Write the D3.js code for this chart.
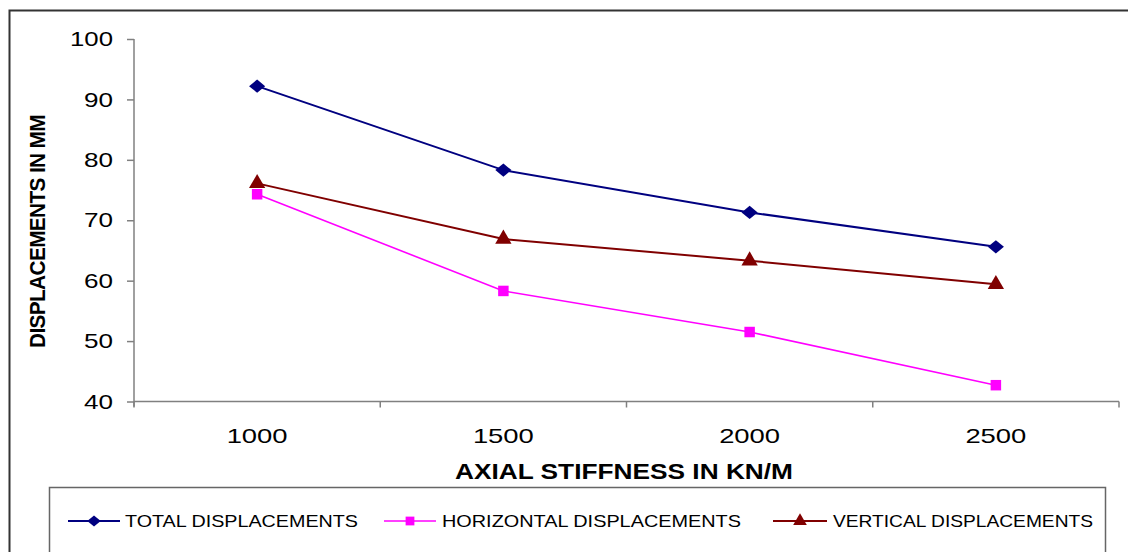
<!DOCTYPE html>
<html>
<head>
<meta charset="utf-8">
<script src="https://cdn.jsdelivr.net/npm/d3@7"></script>
<style>
  html, body { margin: 0; padding: 0; background: #fff; }
  svg { display: block; font-family: Arial, "Liberation Sans", sans-serif; }
</style>
</head>
<body>
<svg id="chart" width="1128" height="552"></svg>
<script>
// Axial stiffness categories (kN/m)
const categories = ["1000", "1500", "2000", "2500"];

// Displacements in mm for each stiffness value
const totalDisp = [92.2, 78.3, 71.3, 65.6];
const horizontalDisp = [74.3, 58.3, 51.5, 42.7];
const verticalDisp = [76.1, 66.9, 63.3, 59.4];

const seriesNames = ["TOTAL DISPLACEMENTS", "HORIZONTAL DISPLACEMENTS", "VERTICAL DISPLACEMENTS"];
const yTicks = [40, 50, 60, 70, 80, 90, 100];

const series = [
  { name: seriesNames[0], values: totalDisp, color: "#000080", width: 2, shape: "diamond" },
  { name: seriesNames[1], values: horizontalDisp, color: "#FF00FF", width: 1.6, shape: "square" },
  { name: seriesNames[2], values: verticalDisp, color: "#800000", width: 2, shape: "triangle" }
];

const svg = d3.select("#chart");

// outer chart frame
svg.append("rect")
  .attr("x", 9.5).attr("y", 10.5)
  .attr("width", 1130).attr("height", 560)
  .attr("fill", "none").attr("stroke", "#333").attr("stroke-width", 2);

const plot = { left: 134, right: 1119, top: 39, bottom: 401.5 };

const x = d3.scaleBand().domain(categories).range([plot.left, plot.right]).padding(0);
const y = d3.scaleLinear().domain([40, 100]).range([plot.bottom, plot.top]);

// stretch a text node horizontally to a target width
function fitWidth(sel, w) {
  sel.attr("textLength", w).attr("lengthAdjust", "spacingAndGlyphs");
}

// Y axis
const yAxis = svg.append("g")
  .attr("transform", `translate(${plot.left},0)`)
  .call(d3.axisLeft(y).tickValues(yTicks).tickSize(7).tickPadding(14).tickFormat(d3.format("d")));
yAxis.select(".domain").attr("stroke", "#808080").attr("stroke-width", 1.5)
  .attr("d", `M0,${plot.top}V${plot.bottom + 5}`);
yAxis.selectAll(".tick line").attr("stroke", "#808080").attr("stroke-width", 1.5);
yAxis.selectAll(".tick text")
  .attr("font-size", 21).attr("fill", "#000")
  .attr("font-family", "Arial, 'Liberation Sans', sans-serif")
  .each(function(d) { fitWidth(d3.select(this), String(d).length === 3 ? 43 : 29); });

// X axis with ticks on category boundaries
const xAxis = svg.append("g")
  .attr("transform", `translate(0,${plot.bottom})`);
xAxis.append("line")
  .attr("x1", plot.left).attr("x2", plot.right)
  .attr("stroke", "#808080").attr("stroke-width", 1.5);
const bounds = categories.map(c => x(c)).concat([plot.right]);
xAxis.selectAll(".bt").data(bounds).join("line")
  .attr("class", "bt")
  .attr("x1", d => d).attr("x2", d => d)
  .attr("y1", 0).attr("y2", 6)
  .attr("stroke", "#808080").attr("stroke-width", 1.5);
xAxis.selectAll(".lbl").data(categories).join("text")
  .attr("class", "lbl")
  .attr("x", d => x(d) + x.bandwidth() / 2)
  .attr("y", 41)
  .attr("text-anchor", "middle")
  .attr("font-size", 21)
  .text(d => d)
  .call(fitWidth, 61);

// axis titles
svg.append("text")
  .attr("x", 624).attr("y", 479)
  .attr("text-anchor", "middle")
  .attr("font-size", 22).attr("font-weight", "bold")
  .text("AXIAL STIFFNESS IN KN/M")
  .call(fitWidth, 338);

svg.append("text")
  .attr("transform", "translate(45,231.5) scale(1.35,1) rotate(-90)")
  .attr("text-anchor", "middle")
  .attr("font-size", 17).attr("font-weight", "bold")
  .attr("letter-spacing", -0.5)
  .text("DISPLACEMENTS IN MM")
  .call(fitWidth, 233);

// marker symbols
const shapes = {
  diamond: s => d3.symbol().type(d3.symbolDiamond2 || d3.symbolDiamond).size(s)(),
  square: s => d3.symbol().type(d3.symbolSquare).size(s)(),
  triangle: s => d3.symbol().type(d3.symbolTriangle).size(s)()
};
const markerSize = { diamond: 125, square: 110, triangle: 115 };

const line = d3.line()
  .x((d, i) => x(categories[i]) + x.bandwidth() / 2)
  .y(d => y(d));

const gSeries = svg.append("g");
series.forEach(s => {
  gSeries.append("path")
    .datum(s.values)
    .attr("d", line)
    .attr("fill", "none")
    .attr("stroke", s.color)
    .attr("stroke-width", s.width);
  gSeries.selectAll(null).data(s.values).join("path")
    .attr("transform", (d, i) => {
      const cx = x(categories[i]) + x.bandwidth() / 2;
      const sx = s.shape === "diamond" ? "scale(1.15,0.95)" : "";
      return `translate(${cx},${y(d)}) ${sx}`;
    })
    .attr("d", shapes[s.shape](markerSize[s.shape]))
    .attr("fill", s.color);
});

// legend
svg.append("rect")
  .attr("x", 49.5).attr("y", 487.5)
  .attr("width", 1056).attr("height", 80)
  .attr("fill", "#fff").attr("stroke", "#666").attr("stroke-width", 1.5);

const legendItems = [
  { x1: 68, x2: 120, tx: 125, tw: 233 },
  { x1: 384, x2: 436, tx: 442, tw: 299 },
  { x1: 773, x2: 827, tx: 833, tw: 260 }
];
const legY = 521;
series.forEach((s, i) => {
  const li = legendItems[i];
  const g = svg.append("g");
  g.append("line")
    .attr("x1", li.x1).attr("x2", li.x2)
    .attr("y1", legY).attr("y2", legY)
    .attr("stroke", s.color).attr("stroke-width", s.width);
  g.append("path")
    .attr("transform", `translate(${(li.x1 + li.x2) / 2},${legY}) ${s.shape === "diamond" ? "scale(1.15,0.95)" : ""}`)
    .attr("d", shapes[s.shape](markerSize[s.shape] * 0.7))
    .attr("fill", s.color);
  g.append("text")
    .attr("x", li.tx).attr("y", legY + 6)
    .attr("font-size", 17)
    .text(s.name)
    .call(fitWidth, li.tw);
});
</script>
</body>
</html>
